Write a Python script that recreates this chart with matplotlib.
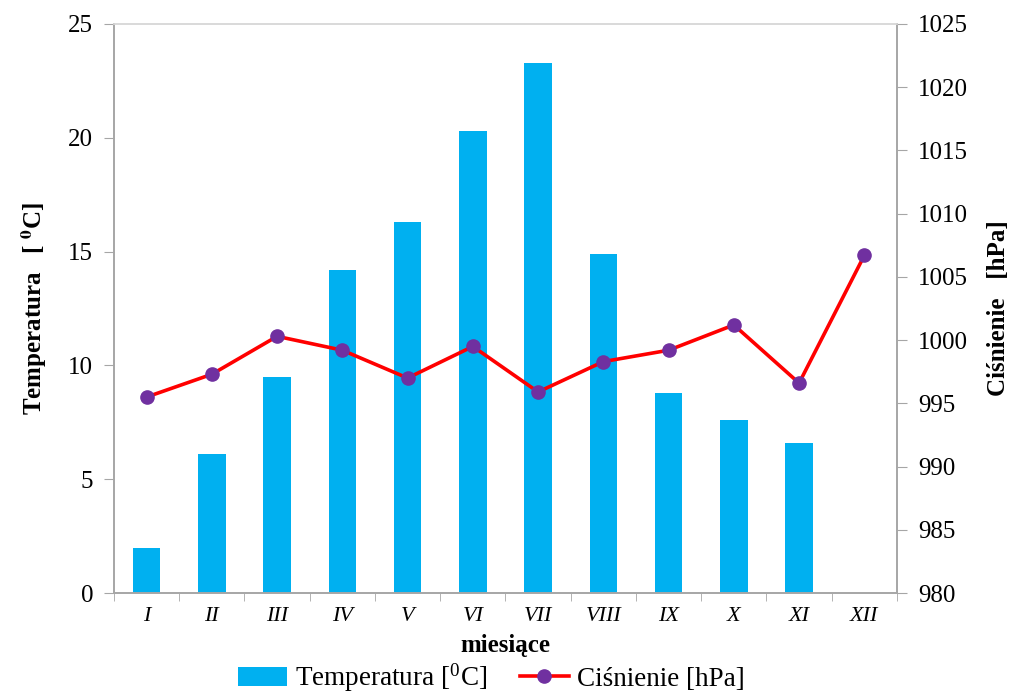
import numpy as np
import matplotlib.pyplot as plt
from matplotlib.ticker import FixedLocator

plt.rcParams['font.family'] = ['Liberation Serif', 'DejaVu Serif']
plt.rcParams['mathtext.fontset'] = 'stix'

months = ['I', 'II', 'III', 'IV', 'V', 'VI', 'VII', 'VIII', 'IX', 'X', 'XI', 'XII']
temperatura = [2.0, 6.1, 9.5, 14.2, 16.3, 20.3, 23.3, 14.9, 8.8, 7.6, 6.6, 0.0]
cisnienie = [995.5, 997.3, 1000.3, 999.2, 997.0, 999.5, 995.9, 998.3, 999.2, 1001.2, 996.6, 1006.7]

x = np.arange(len(months))
spine_col = '#A6A6A6'

fig = plt.figure(figsize=(10.15, 6.99), dpi=100)
ax = fig.add_axes([0.1123, 0.1516, 0.7714, 0.8141])
ax2 = ax.twinx()

bars = ax.bar(x, temperatura, width=0.42, color='#00B0F0', zorder=2)
line, = ax2.plot(x, cisnienie, color='#FF0000', lw=2.6, marker='o',
                 markersize=9.5, markerfacecolor='#7030A0', markeredgecolor='#7030A0', zorder=3)

ax.set_xlim(-0.5, len(months) - 0.5)
ax.set_ylim(0, 25)
ax.set_yticks(np.arange(0, 26, 5))
ax2.set_ylim(980, 1025)
ax2.set_yticks(np.arange(980, 1026, 5))

ax.set_xticks(x)
ax.set_xticklabels(months, fontsize=16, style='italic')
ax.tick_params(axis='x', length=0, pad=10)
ax.xaxis.set_minor_locator(FixedLocator(np.arange(-0.5, len(months), 1)))
ax.tick_params(axis='x', which='minor', length=6, color=spine_col, direction='out')

ax.tick_params(axis='y', labelsize=18, length=7, color=spine_col, pad=8)
ax2.tick_params(axis='y', labelsize=18, length=7, color=spine_col, pad=8)

for a in (ax, ax2):
    for s in ('left', 'right', 'bottom'):
        a.spines[s].set_color(spine_col)
        a.spines[s].set_linewidth(1.2)
    a.spines['top'].set_color('#D9D9D9')
    a.spines['top'].set_linewidth(1.2)

ax.set_xlabel('miesiące', fontsize=18, fontweight='bold', labelpad=6)
ax.set_ylabel(r'Temperatura   [ $^{\mathbf{0}}$C]', fontsize=18, fontweight='bold', labelpad=14)
ax2.set_ylabel('Ciśnienie   [hPa]', fontsize=18, fontweight='bold', labelpad=14)

fig.legend([bars, line], [r'Temperatura [$^{\mathregular{0}}$C]', 'Ciśnienie [hPa]'],
           loc='lower center', bbox_to_anchor=(0.484, -0.028), ncol=2, frameon=False,
           fontsize=19.5, handlelength=1.8, columnspacing=1.2, handletextpad=0.3)

fig.savefig('out.png', dpi=100)
